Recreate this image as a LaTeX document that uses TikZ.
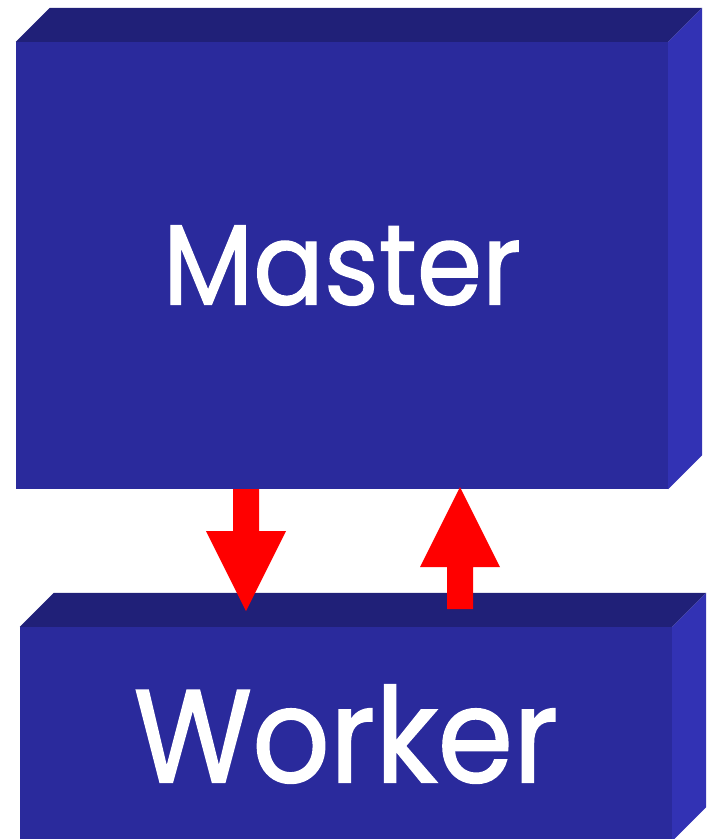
\documentclass[tikz,border=0pt]{standalone}
\usepackage{fontspec}
\setmainfont{Poppins}[FakeStretch=0.92, FakeBold=1.2]
\usetikzlibrary{calc}

\definecolor{faceblue}{RGB}{42,42,156}
\definecolor{topblue}{RGB}{32,32,120}
\definecolor{sideblue}{RGB}{50,50,180}

\tikzset{
    front/.style={fill=faceblue, minimum width=652pt, inner sep=0pt, text=white},
    lid/.style={fill=topblue},
    side/.style={fill=sideblue},
    blockarrow/.style={fill=red}
}

\begin{document}
\begin{tikzpicture}[x=1pt, y=-1pt]
    \clip (0,0) rectangle (717,839);

    % Front faces
    \node[front, minimum height=447pt, font=\fontsize{114}{114}\selectfont] (master) at (342,265.5) {Master};
    \node[front, minimum height=214pt, font=\fontsize{132}{132}\selectfont] (worker) at (346,734) {Worker};

    % Depth of the boxes
    \foreach \blk in {master, worker} {
        \fill[lid] (\blk.north west) -- ++(34,-34) -- ($(\blk.north east)+(34,-34)$) -- (\blk.north east) -- cycle;
        \fill[side] (\blk.north east) -- ++(34,-34) -- ($(\blk.south east)+(34,-34)$) -- (\blk.south east) -- cycle;
    }

    % Messages between master and worker
    \coordinate (send) at ($(master.south)+(-96,0)$);
    \coordinate (reply) at ($(master.south)+(118,0)$);
    \fill[blockarrow] (send) ++(-13,0) -- ++(26,0) -- ++(0,42) -- ++(27,0) -- ++(-40,80) -- ++(-40,-80) -- ++(27,0) -- cycle;
    \fill[blockarrow] (reply) ++(0,-2) -- ++(40,80) -- ++(-27,0) -- ++(0,42) -- ++(-26,0) -- ++(0,-42) -- ++(-27,0) -- cycle;
\end{tikzpicture}
\end{document}
